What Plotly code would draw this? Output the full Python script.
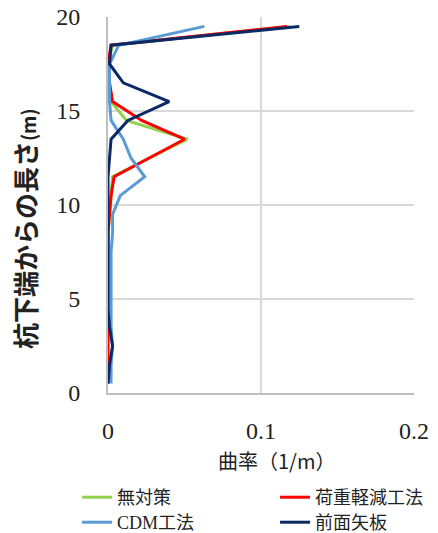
import plotly.graph_objects as go

# depth from pile bottom (m)
depth = [0.5, 1.5, 2.5, 3.5, 4.5, 5.5, 6.5, 7.5, 8.5, 9.5,
         10.5, 11.5, 12.5, 13.5, 14.5, 15.5, 16.5, 17.5, 18.5, 19.5]

# curvature (1/m)
mutaisaku = [0, 0, 0, 0, 0, 0, 0, 0, 0, 0.001,
             0.002, 0.003, 0.027, 0.052, 0.012, 0.002, 0.0, 0.0, 0.003, 0.119]
kaju = [0, 0, 0, 0, 0, 0, 0, 0, 0, 0.001,
        0.002, 0.004, 0.027, 0.050, 0.022, 0.003, 0.001, 0.0, 0.002, 0.117]
cdm = [0.002, 0.002, 0.003, 0.002, 0.002, 0.002, 0.002, 0.002, 0.003, 0.003,
       0.008, 0.024, 0.015, 0.010, 0.002, 0.001, 0.001, 0.001, 0.007, 0.063]
zenmen = [0, 0.001, 0.003, 0.001, 0, 0, 0, 0, 0, 0,
          0, 0, 0.001, 0.002, 0.013, 0.040, 0.010, 0.001, 0.002, 0.125]

names = ["無対策", "荷重軽減工法", "CDM工法", "前面矢板"]
colors = ["#92D050", "#FF0000", "#5B9BD5", "#0A2A66"]
series = [mutaisaku, kaju, cdm, zenmen]
legend_ids = ["legend", "legend2", "legend3", "legend4"]

x_ticks = [0, 0.1, 0.2]
x_ticktext = ["0", "0.1", "0.2"]
y_ticks = [0, 5, 10, 15, 20]

x_title = "曲率（1/m）"
y_title = "<b>杭下端からの長さ<span style='font-size:19px'>(m)</span></b>"

fig = go.Figure()
for nm, col, vals, lg in zip(names, colors, series, legend_ids):
    fig.add_trace(go.Scatter(x=vals, y=depth, mode="lines", name=nm, legend=lg,
                             line=dict(color=col, width=3)))

legend_font = dict(family="Liberation Serif, Noto Sans CJK JP", size=18, color="#222")
legend_cols = [0.176, 0.628]
legend_rows = [0.1013, 0.0544]


def legend_box(col, row):
    return dict(orientation="h", xref="container", yref="container",
                x=legend_cols[col], xanchor="left", y=legend_rows[row], yanchor="top",
                font=legend_font, bgcolor="rgba(0,0,0,0)")


fig.update_layout(
    width=438, height=533,
    margin=dict(l=108, r=24, t=17, b=140),
    paper_bgcolor="white", plot_bgcolor="white",
    font=dict(family="Liberation Serif, Noto Sans CJK JP", color="#222"),
    legend=legend_box(0, 0),
    legend2=legend_box(1, 0),
    legend3=legend_box(0, 1),
    legend4=legend_box(1, 1),
    showlegend=True,
    annotations=[
        dict(text=x_title, xref="paper", yref="paper", x=0.55, y=-0.18,
             xanchor="center", yanchor="middle", showarrow=False,
             font=dict(family="Noto Sans CJK JP", size=20, color="#222")),
        dict(text=y_title, xref="paper", yref="paper", x=-0.272, y=0.438,
             xanchor="center", yanchor="middle", showarrow=False, textangle=-90,
             font=dict(family="Noto Sans CJK JP", size=26, color="#222")),
    ],
)
fig.update_xaxes(range=[0, 0.2], tickvals=x_ticks, ticktext=x_ticktext,
                 showgrid=True, gridcolor="#D9D9D9", gridwidth=1.5,
                 showline=True, linecolor="#BFBFBF", linewidth=2, zeroline=False,
                 tickfont=dict(family="Liberation Serif", size=24, color="#222"),
                 ticklabelstandoff=15, automargin=False)
fig.update_yaxes(range=[0, 20], tickvals=y_ticks,
                 showgrid=True, gridcolor="#D9D9D9", gridwidth=1.5,
                 showline=True, linecolor="#BFBFBF", linewidth=2, zeroline=False,
                 tickfont=dict(family="Liberation Serif", size=24, color="#222"),
                 ticklabelstandoff=21, automargin=False)

fig.write_html("out.html", config={"displayModeBar": False},
               post_script="document.body.style.margin='0';")
